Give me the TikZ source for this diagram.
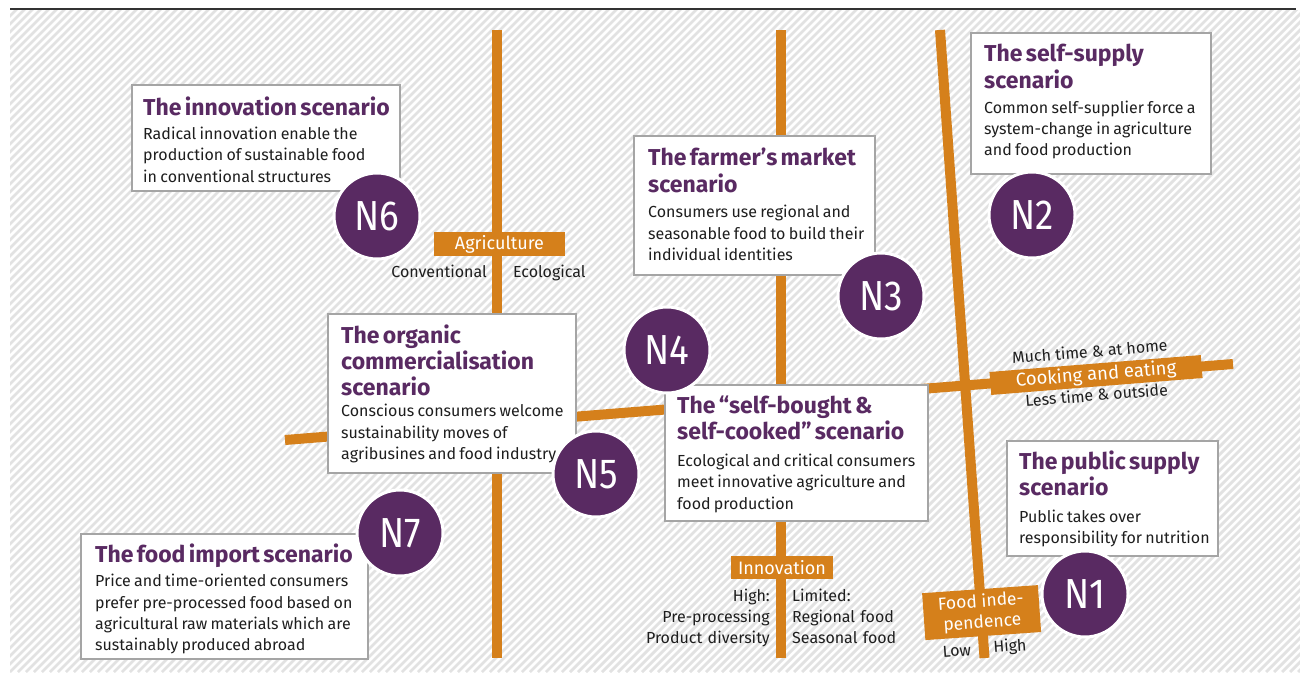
\documentclass[tikz,border=0pt]{standalone}
\usepackage{fontspec}
\setmainfont{Fira Sans}
\newfontfamily\circfont{Fira Sans}[FakeStretch=0.88]
\definecolor{pur}{RGB}{89,42,98}
\definecolor{ora}{RGB}{213,128,27}
\definecolor{bordergray}{RGB}{165,165,165}
\definecolor{txtc}{RGB}{30,30,30}
\definecolor{hatchc}{RGB}{226,226,226}
\newcommand\ttlf{\fontsize{23}{26.3}\selectfont\bfseries\color{pur}}
\newcommand\bdyf{\fontsize{16}{21.4}\selectfont\mdseries\color{txtc}}
\setlength\parindent{0pt}
\setlength\parskip{0pt}
\tikzset{
  axisline/.style={line width=10, draw=ora},
  axlabel/.style={fill=ora, text=white, inner sep=0, font=\fontsize{18}{21}\selectfont},
  box/.style={draw=bordergray, line width=1.5, fill=white, anchor=north west, inner sep=0},
  boxtext/.style={anchor=base west, inner sep=0, text width=320, align=left},
  circ/.style={circle, fill=pur, draw=white, line width=3, minimum size=86, inner sep=0, text=white, font=\circfont\fontsize{42}{42}\selectfont},
  small/.style={inner sep=0, text=txtc, font=\fontsize{16}{21.2}\selectfont},
  hatch/.style={line width=2.8, draw=hatchc}
}
\begin{document}
\begin{tikzpicture}[x=1pt,y=-1pt]
\useasboundingbox (0,0) rectangle (1300,672);
% background hatching
\begin{scope}
\clip (10,10) rectangle (1300,672);
\fill[white] (10,10) rectangle (1300,672);
\foreach \k in {0,...,245} {\draw[hatch] ({-662+8*\k},672) -- ++(672,-672);}
\end{scope}
\draw[line width=2, draw=black!80] (10,9) -- (1296,9);
% axes
\coordinate (agrT) at (497,30);
\coordinate (agrB) at (497,658);
\coordinate (innT) at (780.5,30);
\coordinate (innB) at (780.5,658);
\coordinate (fooT) at (940,30);
\coordinate (fooB) at (984.5,658);
\coordinate (cooL) at (285,440);
\coordinate (cooR) at (1233,364);
\draw[axisline] (agrT) -- (agrB);
\draw[axisline] (innT) -- (innB);
\draw[axisline] (fooT) -- (fooB);
\draw[axisline] (cooL) -- (cooR);
% axis labels
\node[axlabel, minimum width=131, minimum height=24] (lagr) at (499.5,244) {Agriculture};
\node[axlabel, minimum width=102, minimum height=23] (linn) at (782,567.5) {Innovation};
\node[axlabel, minimum width=212, minimum height=23, rotate=4.58, font=\fontsize{18.5}{21}\selectfont] (lcoo) at (1096,375) {Cooking and eating};
\node[axlabel, minimum width=116, minimum height=47, rotate=4, align=center, font=\fontsize{17.5}{21}\selectfont] (lfoo) at (981.6,612.6) {Food inde-\\pendence};
% axis end texts
\node[small, anchor=base east] (conv) at (487,277.7) {Conventional};
\node[small, anchor=base west] (eco) at (513,277.7) {Ecological};
\node[small, anchor=base east, text width=130, align=right] (high) at (770,601) {High:\\Pre-processing\\Product diversity\par};
\node[small, anchor=base west, text width=120, align=left] (lim) at (792,601) {Limited:\\Regional food\\Seasonal food\par};
\node[small, anchor=base east, rotate=4] (low) at (971.6,655.3) {Low};
\node[small, anchor=base west, rotate=4] (hig) at (993.6,652.7) {High};
\node[small, anchor=base, rotate=4.58] (much) at (1090.3,357.4) {Much time \& at home};
\node[small, anchor=base, rotate=4.58] (less) at (1097,401) {Less time \& outside};
% boxes
\node[box, minimum width=268, minimum height=106] (b6) at (131,84) {};
\node[box, minimum width=240, minimum height=141] (b2) at (970,32) {};
\node[box, minimum width=241, minimum height=139] (b3) at (633,135) {};
\node[box, minimum width=248, minimum height=159] (b5) at (327,313) {};
\node[box, minimum width=263, minimum height=136] (b4) at (664,384) {};
\node[box, minimum width=211, minimum height=115] (b1) at (1006,440) {};
\node[box, minimum width=287, minimum height=125] (b7) at (80,533) {};
% box texts
\node[boxtext] (t6) at (143,115) {\ttlf The innovation scenario\par\vspace{2.9pt}\bdyf Radical innovation enable the\\production of sustainable food\\in conventional structures\par};
\node[boxtext] (t2) at (984,61.7) {\ttlf The self-supply\\scenario\par\vspace{3.6pt}\bdyf Common self-supplier force a\\system-change in agriculture\\and food production\par};
\node[boxtext] (t3) at (648,165.7) {\ttlf The farmer’s market\\scenario\par\vspace{4.2pt}\bdyf Consumers use regional and\\seasonable food to build their\\individual identities\par};
\node[boxtext] (t5) at (341,343.3) {\ttlf The organic\\commercialisation\\scenario\par\vspace{-0.7pt}\bdyf Conscious consumers welcome\\sustainability moves of\\agribusines and food industry\par};
\node[boxtext] (t4) at (677,413.3) {\ttlf The “self-bought \&\\self-cooked” scenario\par\vspace{5.3pt}\bdyf Ecological and critical consumers\\meet innovative agriculture and\\food production\par};
\node[boxtext] (t1) at (1019,469.3) {\ttlf The public supply\\scenario\par\vspace{5.3pt}\bdyf Public takes over\\responsibility for nutrition\par};
\node[boxtext] (t7) at (95,562.7) {\ttlf The food import scenario\par\vspace{2.6pt}\bdyf Price and time-oriented consumers\\prefer pre-processed food based on\\agricultural raw materials which are\\sustainably produced abroad\par};
% circles
\node[circ] (n6) at (377,216) {N6};
\node[circ] (n2) at (1032,215) {N2};
\node[circ] (n3) at (881,296) {N3};
\node[circ] (n4) at (667,350) {N4};
\node[circ] (n5) at (596,474) {N5};
\node[circ] (n7) at (400,533) {N7};
\node[circ] (n1) at (1085,594) {N1};
\end{tikzpicture}
\end{document}
